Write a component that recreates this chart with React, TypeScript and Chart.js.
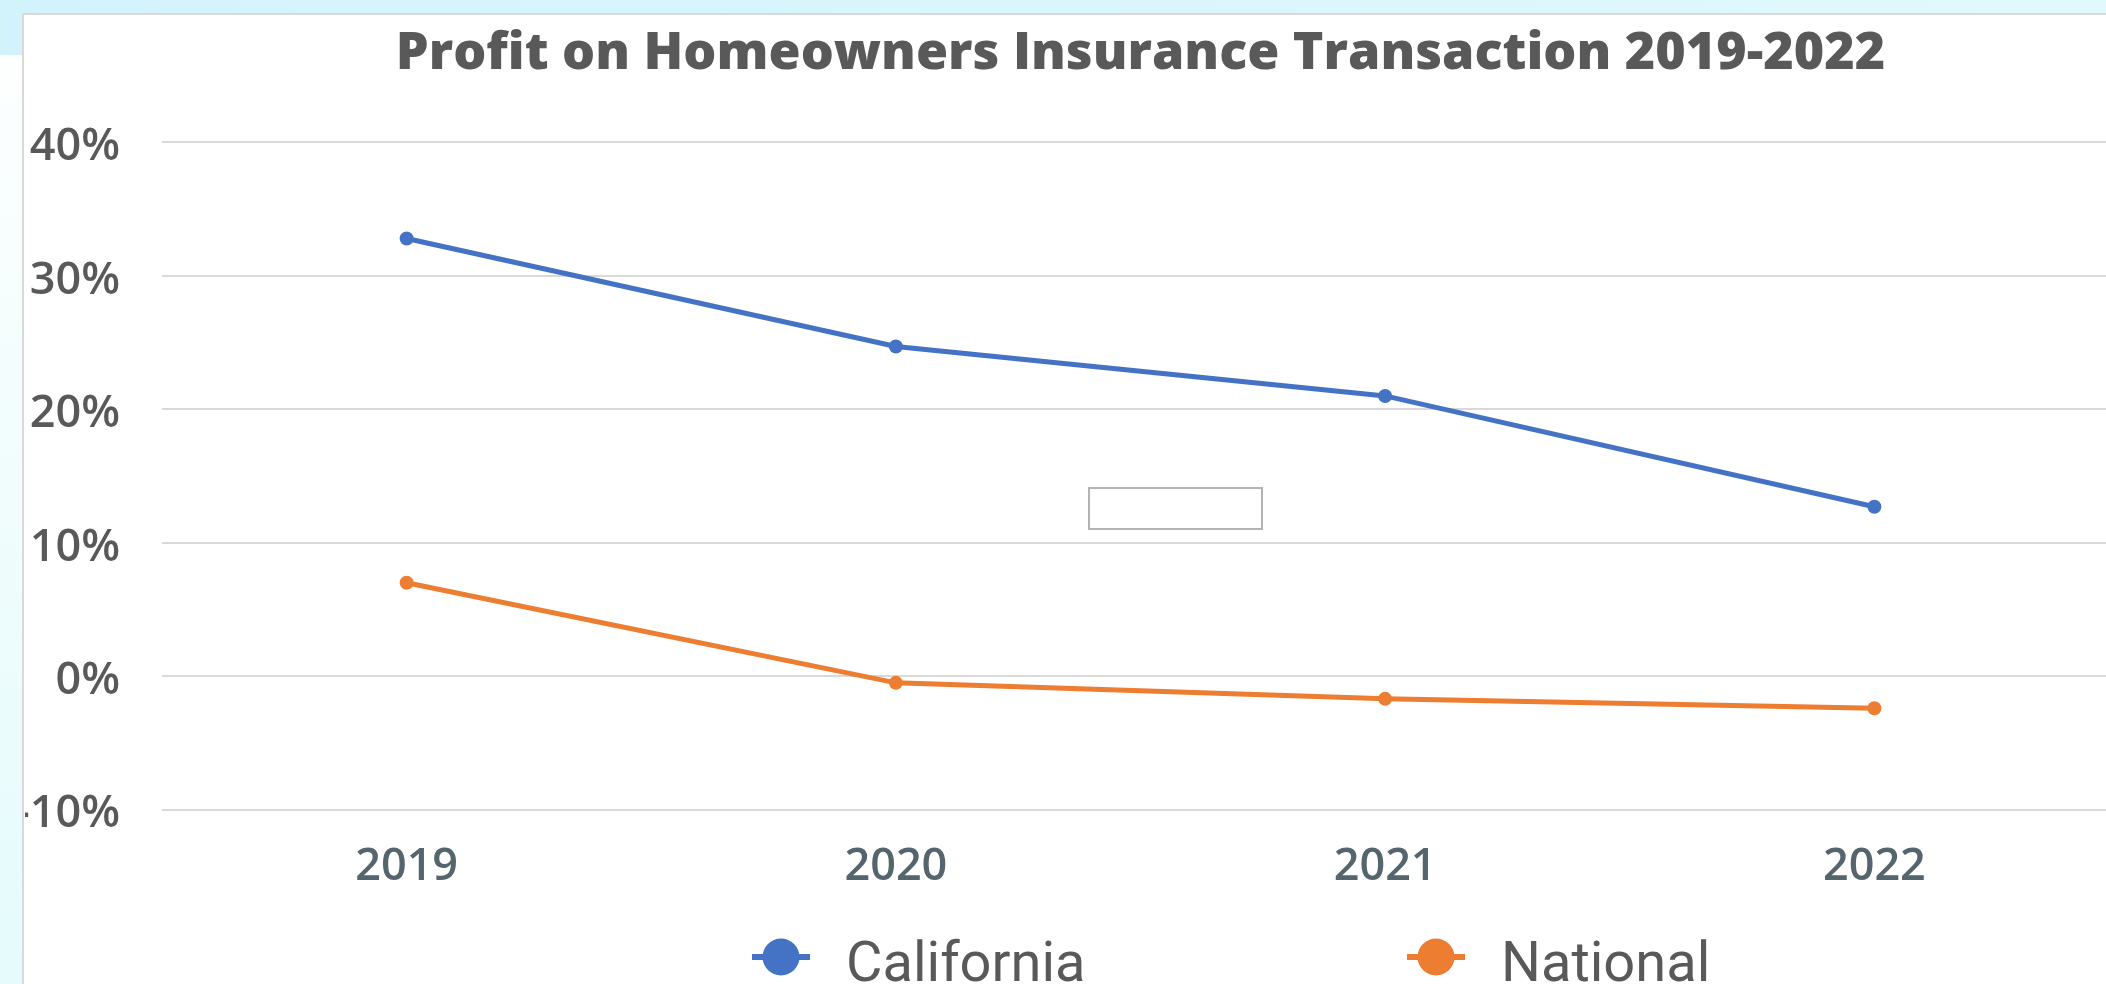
import React, { useEffect, useRef } from "react";
import { Chart, registerables } from "chart.js";

Chart.register(...registerables);

const chartTitle = "Profit on Homeowners Insurance Transaction 2019-2022";
const years = ["2019", "2020", "2021", "2022"];
const seriesNames = ["California", "National"];
const californiaProfit = [32.8, 24.7, 21.0, 12.7];
const nationalProfit = [7.0, -0.5, -1.7, -2.4];
const yMin = -10;
const yMax = 40;
const yStep = 10;
const seriesColors = ["#4472C4", "#ED7D31"];

const CANVAS_LEFT = 25;
const CANVAS_TOP = 16;
const CANVAS_W = 2101;
const CANVAS_H = 1000;

const legendPlugin = {
  id: "lineMarkerLegend",
  afterDraw(chart: any) {
    const ctx = chart.ctx as CanvasRenderingContext2D;
    const markerX = [756, 1411];
    const markerY = 941;
    ctx.save();
    chart.data.datasets.forEach((ds: any, i: number) => {
      const cx = markerX[i];
      ctx.strokeStyle = ds.borderColor;
      ctx.lineWidth = 6;
      ctx.beginPath();
      ctx.moveTo(cx - 29, markerY);
      ctx.lineTo(cx + 29, markerY);
      ctx.stroke();
      ctx.fillStyle = ds.borderColor;
      ctx.beginPath();
      ctx.arc(cx, markerY, 18.5, 0, Math.PI * 2);
      ctx.fill();
      ctx.fillStyle = "#595959";
      ctx.font = "56px Roboto";
      ctx.textAlign = "left";
      ctx.textBaseline = "alphabetic";
      ctx.fillText(ds.label, cx + 65, 965);
    });
    ctx.restore();
  },
};

export default function App() {
  const canvasRef = useRef<HTMLCanvasElement | null>(null);

  useEffect(() => {
    if (!canvasRef.current) return;
    const chart = new Chart(canvasRef.current, {
      type: "line",
      data: {
        labels: years,
        datasets: [
          {
            label: seriesNames[0],
            data: californiaProfit,
            borderColor: seriesColors[0],
            backgroundColor: seriesColors[0],
            borderWidth: 5,
            pointRadius: 7,
            pointBorderWidth: 0,
            pointBackgroundColor: seriesColors[0],
            tension: 0,
          },
          {
            label: seriesNames[1],
            data: nationalProfit,
            borderColor: seriesColors[1],
            backgroundColor: seriesColors[1],
            borderWidth: 5,
            pointRadius: 7,
            pointBorderWidth: 0,
            pointBackgroundColor: seriesColors[1],
            tension: 0,
          },
        ],
      },
      options: {
        animation: false,
        responsive: false,
        devicePixelRatio: 1,
        layout: { padding: 0 },
        plugins: {
          legend: { display: false },
          tooltip: { enabled: false },
          title: {
            display: true,
            text: chartTitle,
            fullSize: false,
            color: "#595959",
            font: { family: "'Open Sans'", size: 52, weight: "800", lineHeight: 1.2 },
            padding: { top: 7, bottom: 57 },
          },
        },
        scales: {
          x: {
            type: "category",
            offset: true,
            grid: { display: false, drawTicks: false },
            border: { display: false },
            ticks: {
              color: "#55656E",
              font: { family: "'Open Sans'", size: 45, weight: "600" },
              padding: 31,
              maxRotation: 0,
            },
            afterFit(scale: any) {
              scale.height = 206.4;
            },
          },
          y: {
            min: yMin,
            max: yMax,
            grid: { color: "#D9D9D9", lineWidth: 2, drawTicks: false },
            border: { display: false },
            ticks: {
              stepSize: yStep,
              color: "#595959",
              font: { family: "'Open Sans'", size: 45, weight: "600" },
              padding: 42,
              labelOffset: 5,
              callback: (v: any) => `${v}%`,
            },
            afterFit(scale: any) {
              scale.width = 137;
            },
          },
        },
      },
      plugins: [legendPlugin],
    });
    return () => chart.destroy();
  }, []);

  return (
    <div
      style={{
        position: "fixed",
        inset: 0,
        overflow: "hidden",
        background: "linear-gradient(180deg, #ffffff 0%, #f3fdfd 40%, #e5fbfc 100%)",
      }}
    >
      <div
        style={{
          position: "absolute",
          left: 0,
          top: 0,
          width: "100%",
          height: 55,
          background: "linear-gradient(90deg, #d3f3fc 0%, #e0f9fc 100%)",
        }}
      />
      <div
        style={{
          position: "absolute",
          left: 22,
          top: 13,
          width: 2200,
          height: 1100,
          background: "#ffffff",
          border: "2px solid #d9d9d9",
          boxSizing: "border-box",
        }}
      />
      <div
        style={{
          position: "absolute",
          left: CANVAS_LEFT,
          top: CANVAS_TOP,
          width: CANVAS_W,
          height: CANVAS_H,
        }}
      >
        <canvas
          ref={canvasRef}
          width={CANVAS_W}
          height={CANVAS_H}
          style={{ width: CANVAS_W, height: CANVAS_H, display: "block" }}
        />
      </div>
      <div
        style={{
          position: "absolute",
          left: 1088,
          top: 487,
          width: 175,
          height: 43,
          border: "2px solid #b3b3b3",
          boxSizing: "border-box",
          background: "transparent",
        }}
      />
    </div>
  );
}
